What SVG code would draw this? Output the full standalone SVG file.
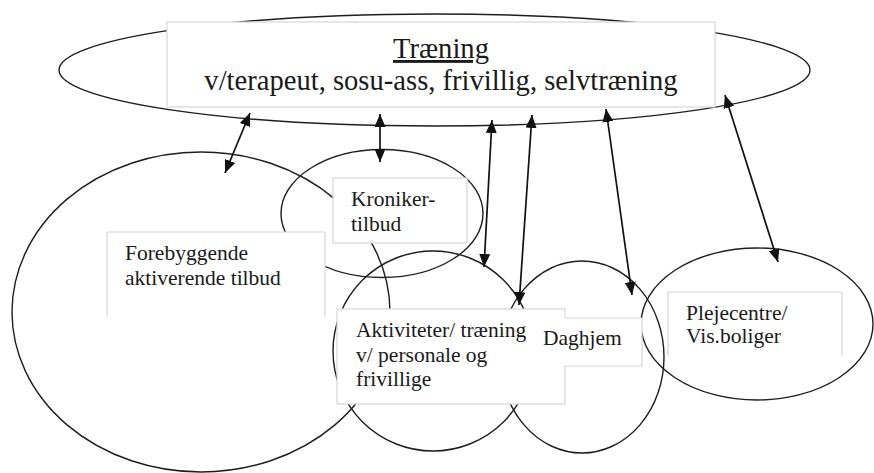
<svg xmlns="http://www.w3.org/2000/svg" width="874" height="473" viewBox="0 0 874 473">
<style>
.shape{fill:none;stroke:#1e1e1e;stroke-width:1.4}
.box{fill:#ffffff;stroke:none}
.edge{fill:none;stroke:#d6d6d6;stroke-width:1.2}
.lbl{font-size:21.5px;fill:#1a1a1a}
.big{font-size:28.6px;fill:#1a1a1a;text-anchor:middle}
.arr{fill:none;stroke:#111;stroke-width:1.7;marker-start:url(#ah);marker-end:url(#ah)}
</style>
<defs>
<marker id="ah" markerUnits="userSpaceOnUse" markerWidth="14" markerHeight="12" refX="13" refY="5.5" orient="auto-start-reverse">
<path d="M0,0 L13,5.5 L0,11 z" fill="#111"/>
</marker>
</defs>
<rect width="874" height="473" fill="#ffffff"/>

<g id="shapes">
<ellipse id="e-traening" class="shape" cx="434.5" cy="70" rx="375.5" ry="56"/>
<ellipse id="e-forebyggende" class="shape" cx="201" cy="312" rx="189" ry="160"/>
<ellipse id="e-kroniker" class="shape" cx="382" cy="213.5" rx="101" ry="64"/>
<ellipse id="e-aktiviteter" class="shape" cx="433" cy="351" rx="100" ry="100"/>
<ellipse id="e-daghjem" class="shape" cx="582" cy="357" rx="82" ry="96"/>
<ellipse id="e-plejecentre" class="shape" cx="757" cy="324" rx="116" ry="76"/>
</g>

<g font-family="Liberation Serif, Tinos, DejaVu Serif, Times New Roman, serif">
<g id="node-traening">
<rect class="box" x="167" y="22" width="548" height="85"/>
<rect class="edge" x="167" y="22" width="548" height="85"/>
<text class="big" x="441" y="58" text-decoration="underline">Træning</text>
<text class="big" x="441" y="90">v/terapeut, sosu-ass, frivillig, selvtræning</text>
</g>

<g id="node-forebyggende">
<rect class="box" x="107" y="232" width="218" height="85"/>
<path class="edge" d="M107,317 V232 H325 V317"/>
<text class="lbl" x="125" y="260">Forebyggende</text>
<text class="lbl" x="125" y="285">aktiverende tilbud</text>
</g>

<g id="node-kroniker">
<rect class="box" x="333" y="178" width="134" height="65"/>
<rect class="edge" x="333" y="178" width="134" height="65"/>
<text class="lbl" x="351" y="206">Kroniker-</text>
<text class="lbl" x="351" y="231">tilbud</text>
</g>

<g id="node-aktiviteter">
<rect class="box" x="337" y="309" width="228" height="95"/>
<rect class="edge" x="337" y="309" width="228" height="95"/>
<text class="lbl" x="356" y="337">Aktiviteter/ træning</text>
<text class="lbl" x="356" y="362">v/ personale og</text>
<text class="lbl" x="356" y="386">frivillige</text>
</g>

<g id="node-daghjem">
<rect class="box" x="530" y="318" width="112" height="48"/>
<path class="edge" d="M565,318 H642 V366 H565"/>
<text class="lbl" x="543" y="345">Daghjem</text>
</g>

<g id="node-plejecentre">
<rect class="box" x="668" y="292" width="174" height="64"/>
<path class="edge" d="M668,356 V292 H842 V356"/>
<text class="lbl" x="686" y="320">Plejecentre/</text>
<text class="lbl" x="686" y="343">Vis.boliger</text>
</g>
</g>

<g id="connectors">
<line class="arr" x1="250" y1="113" x2="225" y2="173"/>
<line class="arr" x1="380" y1="114" x2="380" y2="162"/>
<line class="arr" x1="492" y1="120" x2="484" y2="267"/>
<line class="arr" x1="532" y1="115" x2="519" y2="305"/>
<line class="arr" x1="606" y1="109" x2="632" y2="295"/>
<line class="arr" x1="725" y1="95" x2="778" y2="262"/>
</g>
</svg>
